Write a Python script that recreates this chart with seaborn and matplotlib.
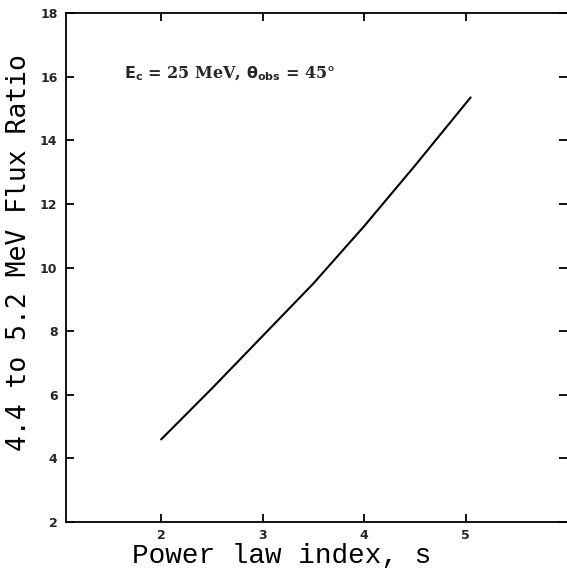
import pandas as pd
import matplotlib
matplotlib.use("Agg")
import matplotlib.pyplot as plt
import seaborn as sns

# values
power_index = [2.0, 2.5, 3.0, 3.5, 4.0, 4.5, 5.05]
flux_ratio = [4.6, 6.2, 7.85, 9.5, 11.3, 13.2, 15.35]

x_ticks = [2, 3, 4, 5]
y_ticks = [2, 4, 6, 8, 10, 12, 14, 16, 18]

df = pd.DataFrame({"s": power_index, "ratio": flux_ratio})

sns.set_style("ticks")
plt.rcParams["font.family"] = ["DejaVu Sans"]

fig = plt.figure(figsize=(5.67, 5.70), dpi=100)
ax = fig.add_axes([0.116, 0.084, 0.884, 0.893])

sns.lineplot(data=df, x="s", y="ratio", ax=ax, color="black", linewidth=1.5)

ax.set_xlim(1.06, 6.0)
ax.set_ylim(2, 18)
ax.set_xticks(x_ticks)
ax.set_yticks(y_ticks)
ax.set_xticklabels([str(t) for t in x_ticks], fontsize=9, fontweight="bold")
ax.set_yticklabels([str(t) for t in y_ticks], fontsize=9, fontweight="bold")

ax.tick_params(axis="both", direction="in", length=6, width=1.3, color="black",
               top=True, right=True, pad=6)
ax.tick_params(axis="x", pad=5)
ax.tick_params(axis="y", labelright=False)
ax.tick_params(axis="x", labeltop=False)

for side in ["left", "bottom", "top"]:
    ax.spines[side].set_linewidth(1.3)
    ax.spines[side].set_color("black")
ax.spines["right"].set_visible(False)

ax.set_xlabel("Power law index, s", family="Liberation Mono", fontsize=20,
              color="black")
ax.set_ylabel("4.4 to 5.2 MeV Flux Ratio", family="DejaVu Sans Mono",
              fontsize=19, color="black")
# the labels sit a little off-centre in the original
ax.xaxis.set_label_coords(0.431, -0.041)
ax.yaxis.set_label_coords(-0.068, 0.53)

ax.text(1.63, 16.1, r"$\mathbf{E_c}$ = 25 MeV, $\mathbf{\theta_{obs}}$ = 45°",
        fontsize=11.5, fontweight="bold", family="DejaVu Serif", va="center")

fig.savefig("out.png", dpi=100)
